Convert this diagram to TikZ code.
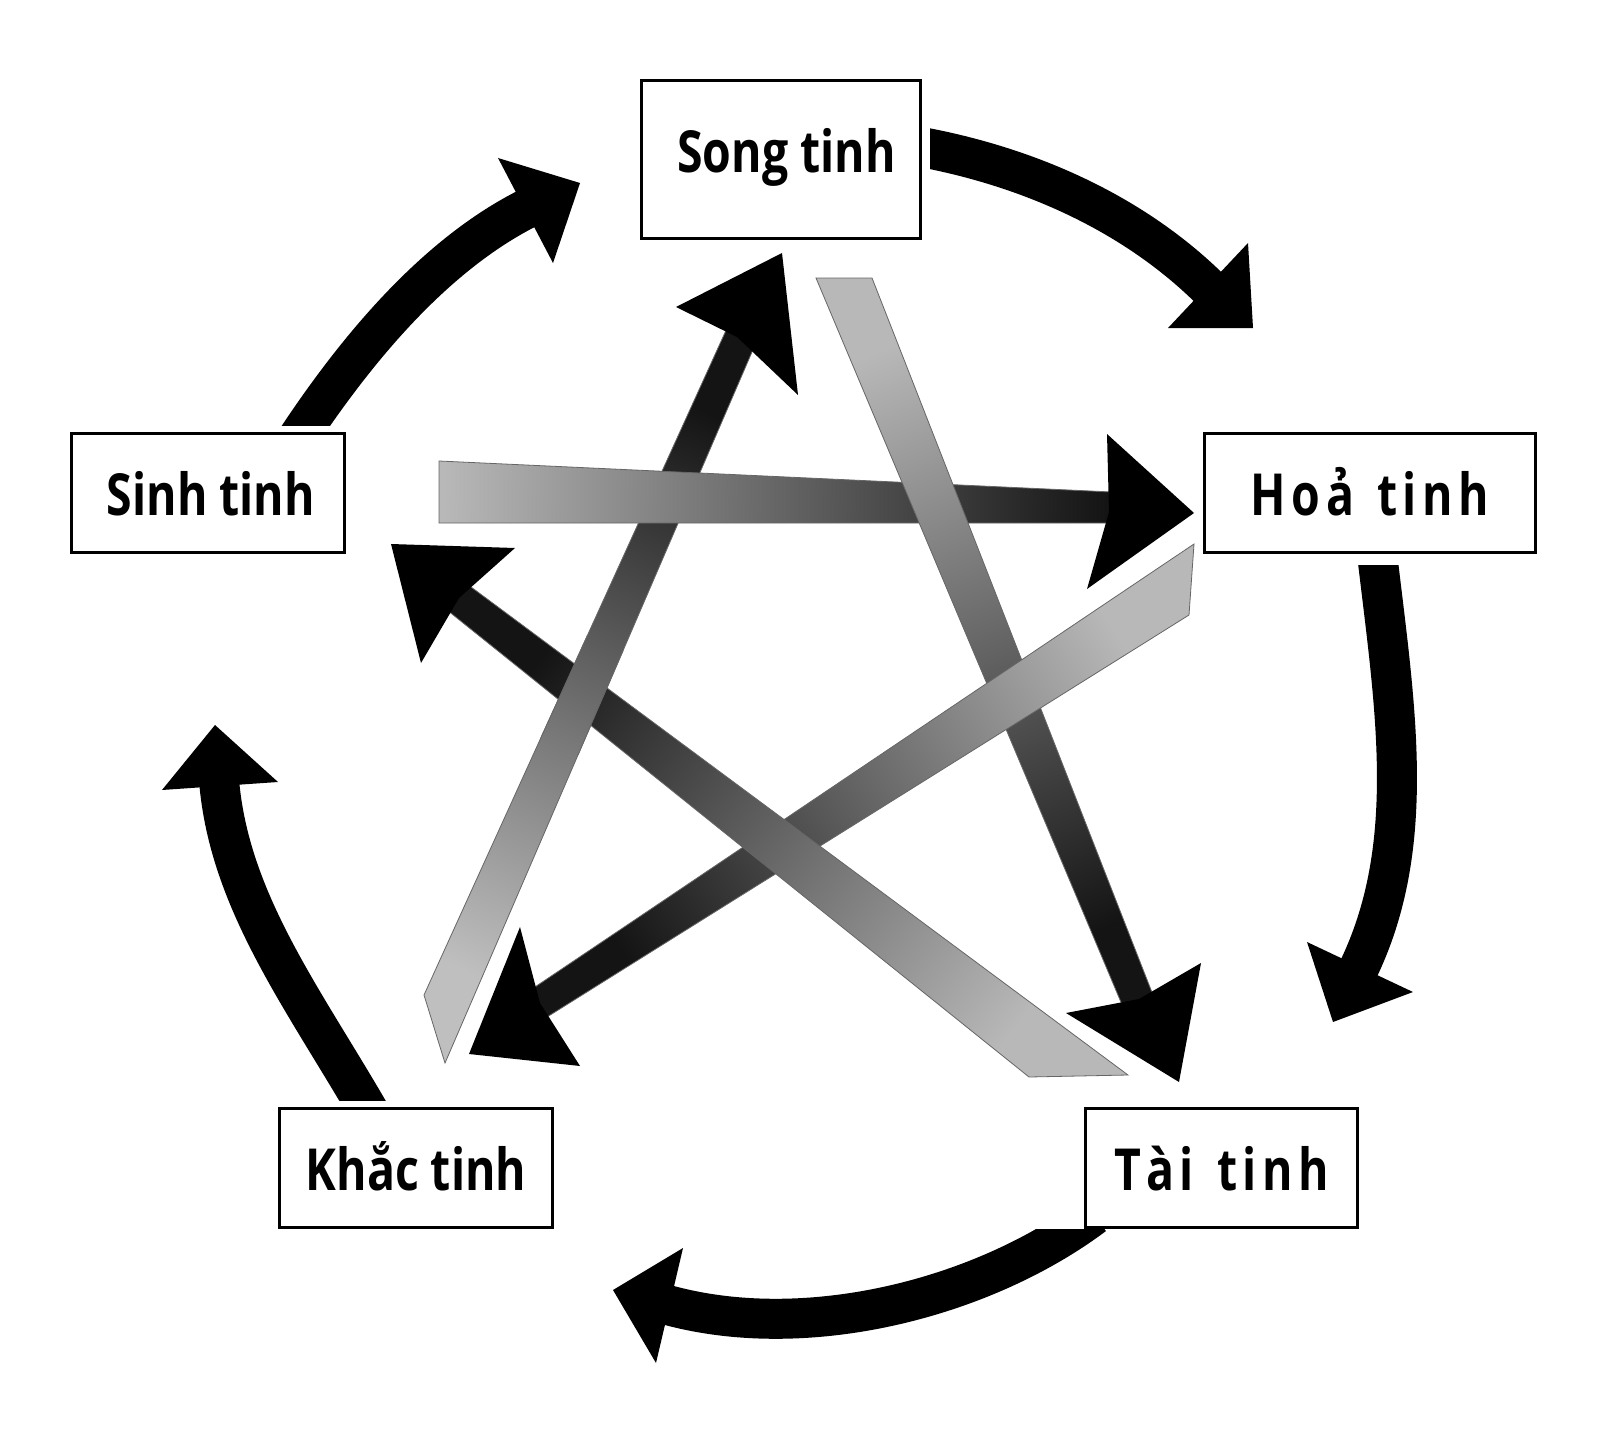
\documentclass[tikz,border=0pt]{standalone}
\usepackage{fontspec}
\newfontfamily\lblfont[FakeStretch=0.8]{Open Sans}
\newcommand\ls{\hspace{5.5pt}}
\begin{document}
\begin{tikzpicture}[x=1pt,y=-1pt,
  box/.style={draw=black, line width=3pt, fill=white, inner sep=0pt,
    font=\lblfont\bfseries\fontsize{58}{60}\selectfont, text height=44pt, text depth=0pt},
  fat/.style={draw=black, line width=40pt},
  band/.style={draw=black!60, line width=0.8pt},
]
\useasboundingbox (0,0) rectangle (1600,1434);
\fill[white] (0,0) rectangle (1600,1434);

% ---- star arrows ----
% A: Khac -> Song
\path[band, top color=black!92, bottom color=black!25, shading angle=-24]
  (424,995) -- (445,1063) -- (755,345) -- (728,326) -- cycle;
\fill (782,253) -- (798,395) -- (737,337) -- (676,307) -- cycle;
% C: Sinh -> Hoa
\path[band, top color=black!92, bottom color=black!28, shading angle=-91]
  (439,461) -- (1112,492) -- (1110,523) -- (439,523) -- cycle;
\fill (1194,513) -- (1087,589) -- (1109,512) -- (1107,434) -- cycle;
% B: Song -> Tai
\path[band, top color=black!92, bottom color=black!28, shading angle=-158]
  (816,278) -- (872,278) -- (1153,995) -- (1123,1007) -- cycle;
\fill (1179,1082) -- (1066,1013) -- (1139,999) -- (1201,963) -- cycle;
% D: Hoa -> Khac
\path[band, top color=black!92, bottom color=black!28, shading angle=123]
  (1194,544) -- (1189,615) -- (547,1017) -- (529,991) -- cycle;
\fill (469,1054) -- (580,1066) -- (540,1003) -- (520,927) -- cycle;
% E: Tai -> Sinh
\path[band, top color=black!92, bottom color=black!28, shading angle=52]
  (1029,1077) -- (1128,1075) -- (467,584) -- (447,610) -- cycle;
\fill (391,544) -- (421,663) -- (459,598) -- (515,548) -- cycle;
% A passes over E
\begin{scope}
  \clip (583,695) circle[radius=60pt];
  \path[band, top color=black!92, bottom color=black!25, shading angle=-24]
    (424,995) -- (445,1063) -- (755,345) -- (728,326) -- cycle;
\end{scope}

% ---- outer ring arrows ----
\begin{scope}
  \clip (930,0) rectangle (1600,700);
  \draw[fat] (910,145) .. controls (1033,166) and (1138,217) .. (1212,291);
\end{scope}
\fill (1248,243) -- (1253,328) -- (1168,328) -- cycle;
\begin{scope}
  \clip (1200,565) rectangle (1600,1100);
  \draw[fat] (1376,545) .. controls (1394,701) and (1420,844) .. (1357,972);
\end{scope}
\fill (1307,942) -- (1333,1022) -- (1413,992) -- cycle;
\begin{scope}
  \clip (500,1229) rectangle (1200,1434);
  \draw[fat] (1094,1215) .. controls (982,1299) and (804,1344) .. (664,1304);
\end{scope}
\fill (683,1248) -- (613,1290) -- (656,1363) -- cycle;
\begin{scope}
  \clip (100,700) rectangle (500,1100);
  \draw[fat] (372,1117) .. controls (304,999) and (229,902) .. (219,780);
\end{scope}
\fill (162,790) -- (215,725) -- (278,782) -- cycle;
\begin{scope}
  \clip (200,100) rectangle (700,425);
  \draw[fat] (295,442) .. controls (351,357) and (431,256) .. (530,207);
\end{scope}
\fill (498,158) -- (580,183) -- (553,263) -- cycle;

% ---- boxes ----
\node[box, minimum width=279pt, minimum height=158pt, text depth=17pt] (song) at (781,159.5) {\hspace{11pt}Song tinh};
\node[box, minimum width=331pt, minimum height=119pt] (hoa) at (1370,493) {H\ls o\ls ả\ls\ \ls t\ls i\ls n\ls h};
\node[box, minimum width=273pt, minimum height=119pt] (sinh) at (208,493) {\hspace{6pt}Sinh tinh};
\node[box, minimum width=273pt, minimum height=119pt] (khac) at (416,1168) {Khắc tinh};
\node[box, minimum width=272pt, minimum height=119pt] (tai) at (1221.5,1168) {T\ls à\ls i\ls\ \ls t\ls i\ls n\ls h\hspace{28pt}};
\end{tikzpicture}
\end{document}
